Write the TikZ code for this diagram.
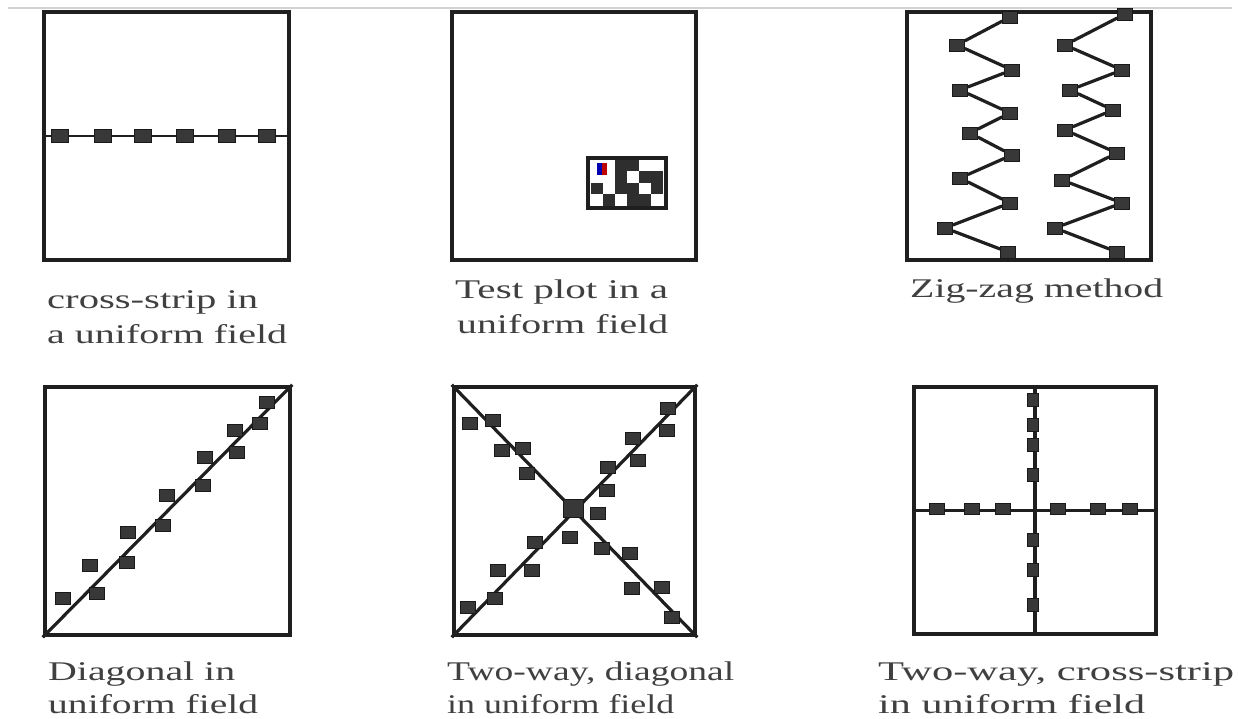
\documentclass[tikz,border=0pt]{standalone}
\usepackage{fontspec}
\setmainfont{Liberation Serif}
\usepackage{graphicx}
\begin{document}
\begin{tikzpicture}[x=1pt,y=-1pt,
  field/.style={draw=black!88, line width=4.5pt, rectangle, inner sep=0pt},
  sq/.style={rectangle, inner sep=0pt, fill=black!78, draw=black!90, line width=0.6pt, minimum width=15pt, minimum height=12pt},
  trace/.style={draw=black!88, line width=3.2pt},
  lab/.style={anchor=base west, inner sep=0pt, text=black!75, font=\fontsize{27}{27}\selectfont},
  cell/.style={fill=black!82}]
\useasboundingbox (0,0) rectangle (1238,719);
\fill[white] (0,0) rectangle (1238,719);
% top rule
\coordinate (tl) at (8,8);
\coordinate (tr) at (1232,8);
\draw[gray!35, line width=1.2pt] (tl) -- (tr);

% fields
\node[field, minimum width=245pt, minimum height=248pt] (f1) at (166.5,136) {};
\node[field, minimum width=244pt, minimum height=248pt] (f2) at (574,136) {};
\node[field, minimum width=244pt, minimum height=248pt] (f3) at (1029,136) {};
\node[field, minimum width=245pt, minimum height=248pt] (f4) at (167.5,511) {};
\node[field, minimum width=241pt, minimum height=248pt] (f5) at (574.5,511) {};
\node[field, minimum width=242pt, minimum height=247pt] (f6) at (1035,510.5) {};

% panel 1: cross-strip
\draw[trace, line width=2.6pt] (f1.west) -- (f1.east);
\foreach \x [count=\i] in {60,103,143,185,227,267}
  \node[sq, minimum width=17pt, minimum height=13pt] (a\i) at (\x,136) {};

% panel 2: test plot
\node[draw=black!88, line width=4pt, fill=white, minimum width=78pt, minimum height=50pt, inner sep=0pt] (chk) at (627,183) {};
\begin{scope}
\def\cw{12}\def\ch{11.5}
\foreach \c/\r in {2/0,3/0,2/1,4/1,5/1,0/2,2/2,3/2,5/2,1/3,3/3,4/3}
  \fill[cell] ({591+\c*\cw},{160+\r*\ch}) rectangle ++(\cw,\ch);
\fill[blue!70!black] (597,163) rectangle (602,175);
\fill[red!75!black] (602,163) rectangle (607,175);
\end{scope}

% panel 3: zig-zag
\foreach \x/\y [count=\i] in {1010/17,957/45,1012/70,960/90,1010/113,970/133,1012/155,960/178,1010/203,945/228,1008/252}
  \node[sq] (za\i) at (\x,\y) {};
\foreach \x/\y [count=\i] in {1125/14,1065/45,1122/70,1070/90,1113/110,1065/130,1117/153,1062/180,1122/203,1055/228,1117/252}
  \node[sq] (zb\i) at (\x,\y) {};
\draw[trace] (za1) -- (za2) -- (za3) -- (za4) -- (za5) -- (za6) -- (za7) -- (za8) -- (za9) -- (za10) -- (za11);
\draw[trace] (zb1) -- (zb2) -- (zb3) -- (zb4) -- (zb5) -- (zb6) -- (zb7) -- (zb8) -- (zb9) -- (zb10) -- (zb11);

% panel 4: diagonal
\draw[trace] (f4.south west) -- (f4.north east);
\foreach \x/\y [count=\i] in {63/598,97/593,90/565,127/562,128/532,163/525,167/495,203/485,205/457,237/452,235/430,260/423,267/402}
  \node[sq] (d\i) at (\x,\y) {};

% panel 5: two-way diagonal
\draw[trace] (f5.north west) -- (f5.south east);
\draw[trace] (f5.south west) -- (f5.north east);
\foreach \x/\y [count=\i] in {470/423,493/420,502/450,523/448,527/473,598/513,602/548,630/553,632/588,662/587,672/617,468/607,495/598,498/570,532/570,535/542,570/537,607/490,608/467,638/460,633/438,667/430,668/408}
  \node[sq] (e\i) at (\x,\y) {};
\node[sq, minimum width=20pt, minimum height=18pt] (ec) at (573,508) {};

% panel 6: two-way cross-strip
\draw[trace] (f6.north) -- (f6.south);
\draw[trace, line width=2.6pt] (f6.west) -- (f6.east);
\foreach \y [count=\i] in {400,425,445,475,540,570,605}
  \node[sq, minimum width=11pt, minimum height=13pt] (v\i) at (1033,\y) {};
\foreach \x [count=\i] in {937,972,1003,1058,1098,1130}
  \node[sq, minimum width=15pt, minimum height=11pt] (h\i) at (\x,509) {};

% labels
\node[lab] (l1a) at (47,308) {\resizebox{211pt}{\height}{cross-strip in}};
\node[lab] (l1b) at (47,343) {\resizebox{240pt}{\height}{a uniform field}};
\node[lab] (l2a) at (455,298) {\resizebox{213pt}{\height}{Test plot in a}};
\node[lab] (l2b) at (457,333) {\resizebox{211pt}{\height}{uniform field}};
\node[lab] (l3) at (910,297) {\resizebox{253pt}{\height}{Zig-zag method}};
\node[lab] (l4a) at (48,680) {\resizebox{187pt}{\height}{Diagonal in}};
\node[lab] (l4b) at (48,713) {\resizebox{210pt}{\height}{uniform field}};
\node[lab] (l5a) at (447,680) {\resizebox{287pt}{\height}{Two-way, diagonal}};
\node[lab] (l5b) at (447,713) {\resizebox{227pt}{\height}{in uniform field}};
\node[lab] (l6a) at (878,680) {\resizebox{356pt}{\height}{Two-way, cross-strip}};
\node[lab] (l6b) at (878,713) {\resizebox{267pt}{\height}{in uniform field}};
\end{tikzpicture}
\end{document}
